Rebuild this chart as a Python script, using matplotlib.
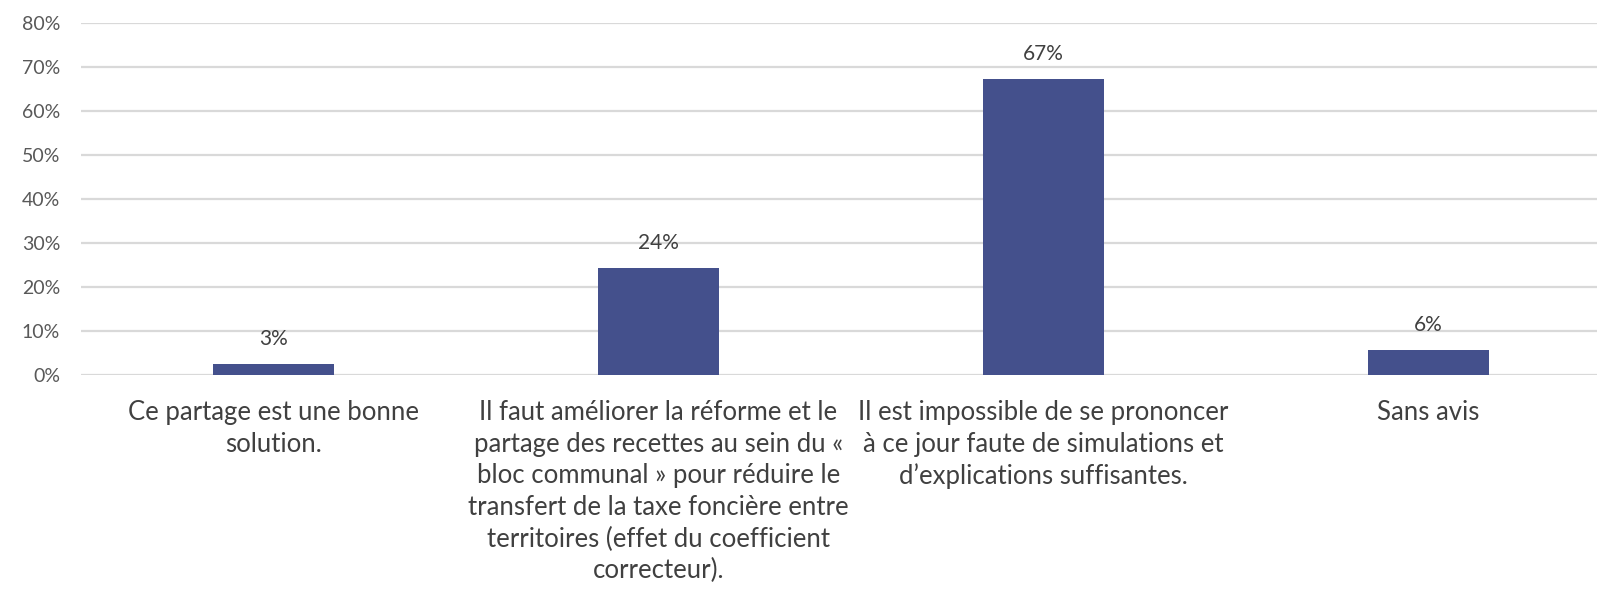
import matplotlib
matplotlib.use("Agg")
import matplotlib.pyplot as plt
from matplotlib.ticker import FuncFormatter

plt.rcParams['font.family'] = ['Lato', 'DejaVu Sans']

categories = [
    "Ce partage est une bonne\nsolution.",
    "Il faut améliorer la réforme et le\npartage des recettes au sein du «\nbloc communal » pour réduire le\ntransfert de la taxe foncière entre\nterritoires (effet du coefficient\ncorrecteur).",
    "Il est impossible de se prononcer\nà ce jour faute de simulations et\nd’explications suffisantes.",
    "Sans avis",
]
values = [2.5, 24.3, 67.3, 5.6]
value_labels = ["3%", "24%", "67%", "6%"]
yticks = [0, 10, 20, 30, 40, 50, 60, 70, 80]

fig = plt.figure(figsize=(15.97, 5.94), dpi=100)
ax = fig.add_axes([81/1597, (594-375)/594, 1540/1597, (375-23)/594])

x = list(range(len(categories)))
ax.bar(x, values, width=0.315, color='#44508C', zorder=3)
for xi, v, lab in zip(x, values, value_labels):
    ax.annotate(lab, (xi, v), xytext=(0, 11), textcoords='offset points',
                ha='center', va='bottom', fontsize=15, color='#404040')

ax.set_xlim(-0.5, 3.5)
ax.set_ylim(0, 80)
ax.set_yticks(yticks)
ax.yaxis.set_major_formatter(FuncFormatter(lambda v, p: f"{int(v)}%"))
ax.grid(axis='y', color='#D9D9D9', linewidth=1.6, zorder=0)
ax.set_axisbelow(True)
for s in ax.spines.values():
    s.set_visible(False)
ax.tick_params(axis='y', length=0, pad=15, labelsize=14, labelcolor='#595959')
ax.tick_params(axis='x', length=0, pad=18, labelsize=18.5, labelcolor='#404040')
ax.set_xticks(x)
ax.set_xticklabels(categories, linespacing=1.33)

fig.savefig("out.png", dpi=100)
